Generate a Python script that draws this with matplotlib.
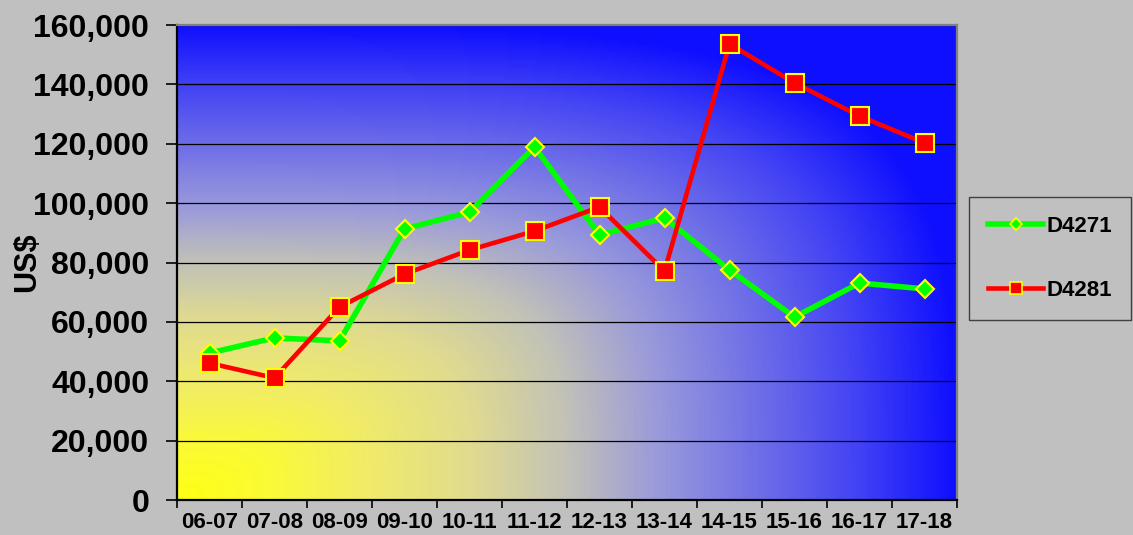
import numpy as np
import matplotlib
matplotlib.use("Agg")
import matplotlib.pyplot as plt
from matplotlib.colors import LinearSegmentedColormap
from matplotlib.lines import Line2D
from matplotlib.ticker import FuncFormatter, FixedLocator

# ---------------------------------------------------------------
# Data
# ---------------------------------------------------------------
years = ["06-07", "07-08", "08-09", "09-10", "10-11", "11-12",
         "12-13", "13-14", "14-15", "15-16", "16-17", "17-18"]
d4271 = [49500, 54600, 53600, 91300, 97000, 118900,
         89300, 95000, 77500, 61600, 73100, 71100]
d4281 = [46100, 41100, 65000, 76100, 84200, 90600,
         98700, 77100, 153600, 140500, 129300, 120300]

plt.rcParams["font.family"] = ["Liberation Sans", "DejaVu Sans"]
plt.rcParams["font.weight"] = "bold"

fig = plt.figure(figsize=(11.33, 5.35), dpi=100)
fig.patch.set_facecolor("#c0c0c0")
ax = fig.add_axes([177/1133, 1 - 500/535, 780/1133, 475/535])

x = np.arange(len(years))
ax.set_xlim(-0.5, len(years) - 0.5)
ax.set_ylim(0, 160000)

# — background gradient: yellow bottom-left -> blue top/right
gu, gv = np.meshgrid(np.linspace(0, 1, 400), np.linspace(0, 1, 250))
t = np.clip((gu**4 + gv**4) ** 0.25, 0, 1)
cmap = LinearSegmentedColormap.from_list("yb", [
    (0.000, (1.00, 1.00, 0.08)),
    (0.120, (0.98, 0.98, 0.22)),
    (0.250, (0.94, 0.92, 0.42)),
    (0.375, (0.88, 0.86, 0.56)),
    (0.500, (0.76, 0.76, 0.72)),
    (0.620, (0.60, 0.60, 0.86)),
    (0.750, (0.43, 0.43, 0.91)),
    (0.875, (0.26, 0.26, 0.96)),
    (1.000, (0.06, 0.06, 1.00)),
])
ax.imshow(t, cmap=cmap, vmin=0, vmax=1, origin="lower", aspect="auto",
          extent=(-0.5, len(years) - 0.5, 0, 160000), zorder=0,
          interpolation="bilinear")

# — grid lines
ax.yaxis.set_major_locator(FixedLocator(np.arange(0, 160001, 20000)))
ax.grid(axis="y", color="black", linewidth=0.9)
ax.grid(axis="x", visible=False)

# — series
ax.plot(x, d4271, color="#00ff00", linewidth=4.0, marker="D",
        markersize=9.5, markerfacecolor="#00ff00",
        markeredgecolor="#ffff00", markeredgewidth=1.5, zorder=3)
ax.plot(x, d4281, color="#ff0000", linewidth=3.3, marker="s",
        markersize=13, markerfacecolor="#ff0000",
        markeredgecolor="#ffff00", markeredgewidth=1.5, zorder=4)

# — axes styling
for side in ("left", "bottom"):
    ax.spines[side].set_color("black")
    ax.spines[side].set_linewidth(1.6)
for side in ("top", "right"):
    ax.spines[side].set_color("#808080")
    ax.spines[side].set_linewidth(1.6)

ax.set_xticks(x)
ax.set_xticklabels(years)
ax.set_xticks(np.arange(-0.5, len(years), 1), minor=True)
ax.tick_params(axis="x", which="major", length=0, pad=9, labelsize=16)
ax.tick_params(axis="x", which="minor", length=6, width=1.2, direction="out")
ax.tick_params(axis="y", length=8, width=1.2, direction="out", pad=12,
               labelsize=23)
ax.yaxis.set_major_formatter(FuncFormatter(lambda v, p: f"{int(v):,}"))

ax.set_ylabel("US$", fontsize=22, fontweight="bold")
ax.yaxis.set_label_coords(-0.173, 0.5)

# — legend
handles = [
    Line2D([], [], color="#00ff00", linewidth=4.0, marker="D", markersize=6,
           markerfacecolor="#00ff00", markeredgecolor="#ffff00",
           markeredgewidth=1.2),
    Line2D([], [], color="#ff0000", linewidth=3.3, marker="s", markersize=8.5,
           markerfacecolor="#ff0000", markeredgecolor="#ffff00",
           markeredgewidth=1.2),
]
leg = fig.legend(handles, ["D4271", "D4281"], loc="upper left",
                 bbox_to_anchor=(969/1133, 1 - 197/535),
                 prop={"size": 16, "weight": "bold"},
                 frameon=True, fancybox=False, facecolor="#c0c0c0",
                 edgecolor="#404040", framealpha=1,
                 handlelength=2.5, handletextpad=0.12, labelspacing=1.95,
                 borderpad=0.85, borderaxespad=0)
leg.get_frame().set_linewidth(1.0)

fig.savefig("out.png", dpi=100, facecolor=fig.get_facecolor())
